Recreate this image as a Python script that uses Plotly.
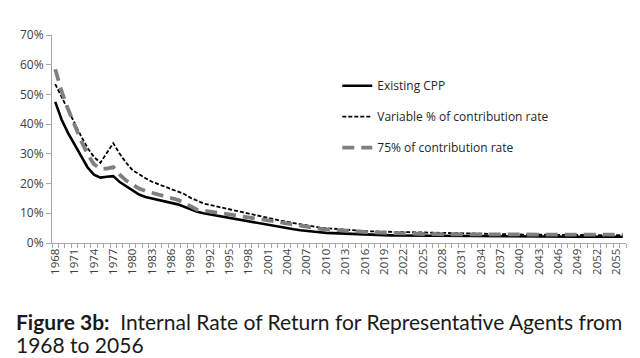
import plotly.graph_objects as go

years = list(range(1968, 2057))

existing_cpp = [
    47.5, 41.5, 37, 33, 29, 25.5, 23, 22, 22.3, 22.5,
    20.5, 19, 17.5, 16.3, 15.5, 15, 14.5, 14, 13.6, 13,
    12.2, 11.3, 10.5, 10, 9.6, 9.3, 9, 8.6, 8.1, 7.6,
    7.2, 6.8, 6.4, 6, 5.6, 5.2, 4.9, 4.6, 4.3, 4.0,
    3.8, 3.6, 3.4, 3.3, 3.15, 3.05, 2.95, 2.85, 2.78, 2.72,
    2.66, 2.6, 2.56, 2.52,
    2.5, 2.45, 2.4, 2.38, 2.35, 2.32, 2.3, 2.28, 2.25, 2.23,
    2.2, 2.18, 2.17, 2.15, 2.13, 2.12, 2.1, 2.1, 2.1, 2.1,
    2.1, 2.1, 2.1, 2.1, 2.1, 2.1, 2.1, 2.1, 2.1, 2.1,
    2.1, 2.1, 2.1, 2.1, 2.1,
]

variable_pct = [
    53.5, 49, 44.5, 40, 36, 32, 29, 27, 30.5, 33.6,
    30, 27, 24.5, 23, 21.8, 20.6, 19.8, 19, 18.3, 17.5,
    16.5, 15.2, 14.2, 13.3, 12.8, 12.3, 11.8, 11.3, 10.8, 10.4,
    10, 9.5, 9, 8.5, 8, 7.5, 7.1, 6.7, 6.3, 5.8,
    5.5, 5.2, 5, 4.8, 4.6, 4.4, 4.3, 4.15, 4, 3.9,
    3.85, 3.75, 3.7, 3.6,
    3.55, 3.5, 3.45, 3.4, 3.35, 3.3, 3.25, 3.2, 3.15, 3.1,
    3.05, 3.0, 2.98, 2.95, 2.92, 2.9, 2.88, 2.86, 2.84, 2.82,
    2.8, 2.78, 2.76, 2.74, 2.72, 2.7, 2.68, 2.66, 2.64, 2.62,
    2.6, 2.6, 2.6, 2.6, 2.6,
]

pct75 = [
    58.5, 51, 45, 39.5, 34.5, 30, 26.5, 25, 25, 25.5,
    23, 21, 19.5, 18.3, 17.5, 16.9, 16.3, 15.7, 15.2, 14.5,
    13.5, 12.3, 11.2, 10.9, 10.6, 10.3, 10, 9.7, 9.4, 9.1,
    8.8, 8.5, 8.1, 7.7, 7.3, 6.9, 6.5, 6.1, 5.7, 5.3,
    5, 4.8, 4.6, 4.4, 4.2, 4, 3.9, 3.8, 3.7, 3.6,
    3.5, 3.4, 3.3, 3.25,
    3.15, 3.1, 3.05, 3.0, 2.98, 2.96, 2.94, 2.92, 2.9, 2.88,
    2.86, 2.84, 2.82, 2.8, 2.8, 2.8, 2.8, 2.8, 2.8, 2.8,
    2.8, 2.8, 2.8, 2.8, 2.8, 2.8, 2.8, 2.8, 2.8, 2.8,
    2.8, 2.8, 2.8, 2.8, 2.8,
]

tick_years = list(range(1968, 2057, 3))
y_ticks = [0, 10, 20, 30, 40, 50, 60, 70]
y_labels = [f"{v}%" for v in y_ticks]

fig = go.Figure()
fig.add_trace(go.Scatter(
    x=years, y=existing_cpp, mode="lines", name="Existing CPP",
    line=dict(color="#000000", width=2.6), legendgroup="a"))
fig.add_trace(go.Scatter(
    x=years, y=variable_pct, mode="lines", name="Variable % of contribution rate",
    line=dict(color="#000000", width=1.8, dash="4px,2px"), legendgroup="b"))
fig.add_trace(go.Scatter(
    x=years, y=pct75, mode="lines", name="75% of contribution rate",
    line=dict(color="#7f7f7f", width=3.8, dash="12px,7px"), legendgroup="c"))

fig.update_layout(
    width=640, height=358,
    margin=dict(l=52, r=14, t=35, b=115, autoexpand=False),
    paper_bgcolor="white", plot_bgcolor="white",
    font=dict(family="Open Sans", color="#404040"),
    legend=dict(x=0.497, y=0.826, xanchor="left", yanchor="top",
                font=dict(size=12, color="#262626", family="Open Sans"),
                tracegroupgap=12, bgcolor="rgba(0,0,0,0)"),
    showlegend=True,
)
fig.update_xaxes(
    range=[1967.5, 2056.5], automargin=False,
    tickmode="array", tickvals=tick_years, ticktext=[str(v) for v in tick_years],
    tickangle=-90, tickfont=dict(size=11.5, color="#404040"),
    ticks="", showgrid=False, zeroline=False,
    showline=True, linecolor="#a6a6a6", linewidth=1,
    minor=dict(tickmode="linear", tick0=1967.5, dtick=1, ticks="outside",
               ticklen=4, tickcolor="#a6a6a6", tickwidth=1, showgrid=False),
)
fig.update_yaxes(
    range=[0, 70], automargin=False, tickmode="array", tickvals=y_ticks, ticktext=y_labels,
    tickfont=dict(size=12, color="#404040"),
    ticks="outside", ticklen=5, tickcolor="#a6a6a6",
    showgrid=False, zeroline=False,
    showline=True, linecolor="#a6a6a6", linewidth=1,
)

fig.add_annotation(
    xref="paper", yref="paper", x=-38/574, y=(358-115-321)/208, xanchor="left", yanchor="middle",
    text="<b>Figure 3b:</b>  Internal Rate of Return for Representative Agents from",
    showarrow=False, align="left", font=dict(family="Lato", size=21, color="#1a1a1a"))
fig.add_annotation(
    xref="paper", yref="paper", x=-38/574, y=(358-115-344)/208, xanchor="left", yanchor="middle",
    text="1968 to 2056",
    showarrow=False, align="left", font=dict(family="Lato", size=21, color="#1a1a1a"))

fig.write_html("out.html", config={"displayModeBar": False},
               post_script="document.body.style.margin='0';")
